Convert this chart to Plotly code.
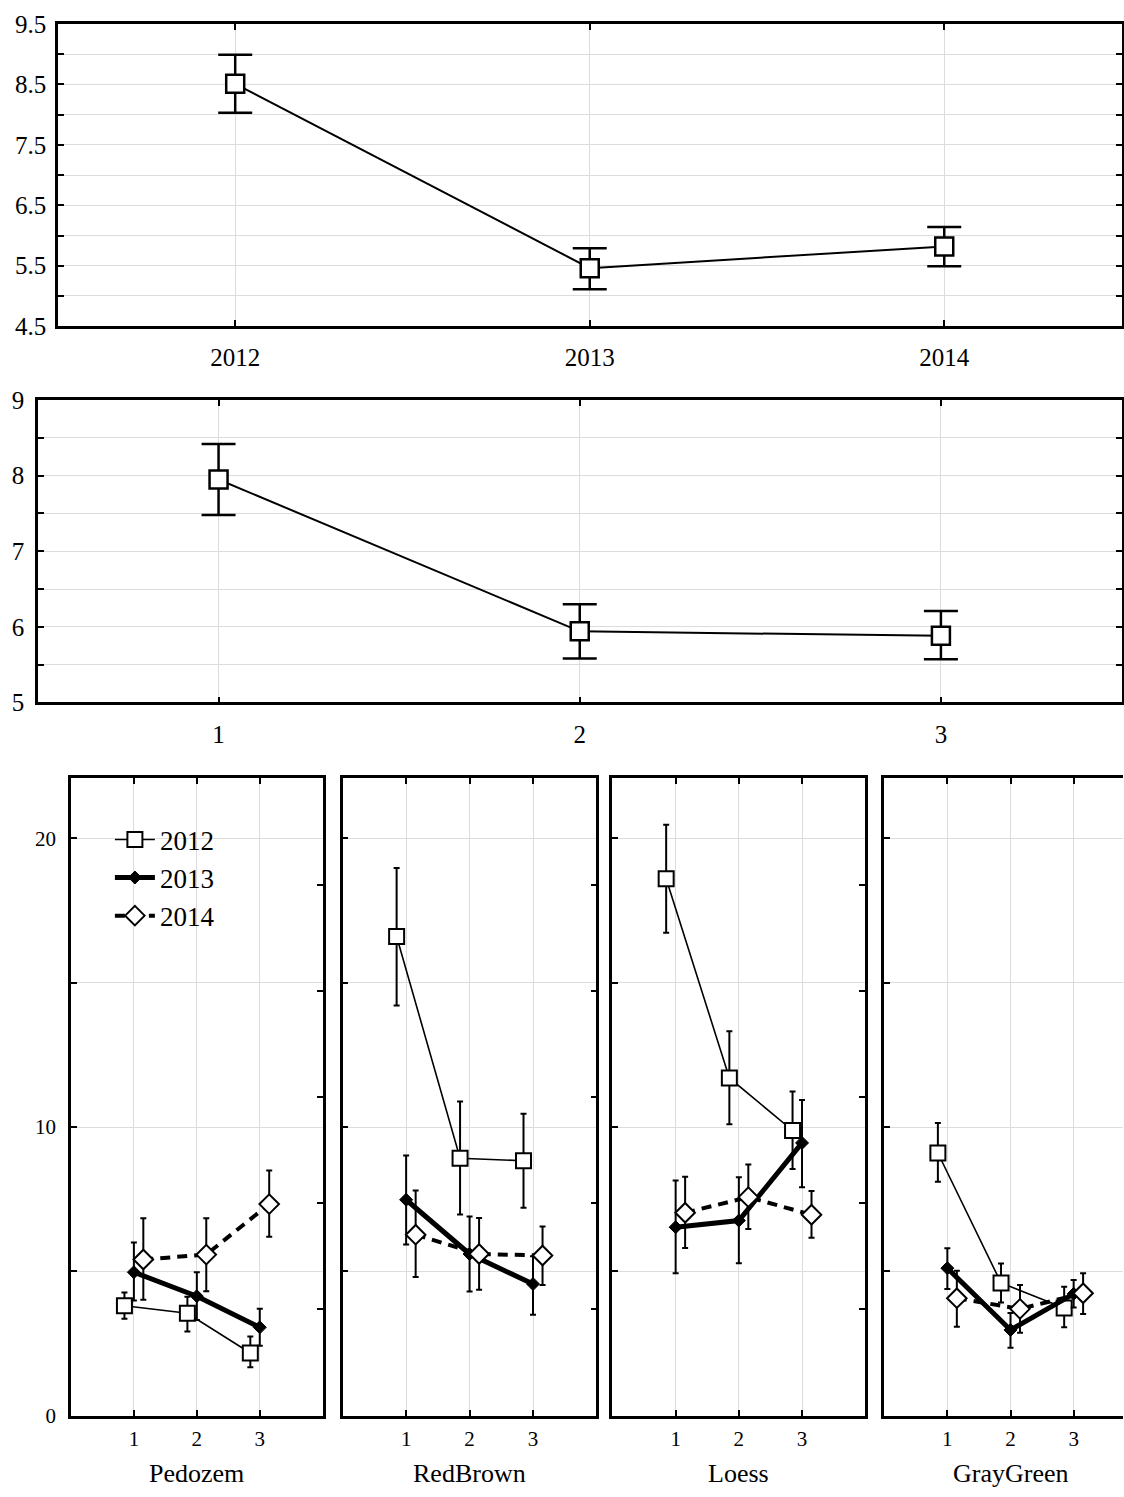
import plotly.graph_objects as go

FONT = "Liberation Serif"
W, H = 1124, 1497

# ---------------- data ----------------
years = ["2012", "2013", "2014"]
year_mean = [8.51, 5.46, 5.82]
year_lo = [8.03, 5.11, 5.49]
year_hi = [8.99, 5.79, 6.14]

sites = ["1", "2", "3"]
site_mean = [7.95, 5.94, 5.88]
site_lo = [7.48, 5.58, 5.57]
site_hi = [8.42, 6.30, 6.21]

soils = ["Pedozem", "RedBrown", "Loess", "GrayGreen"]
positions = [1, 2, 3]

# per soil (Pedozem, RedBrown, Loess, GrayGreen), values at positions 1,2,3
mean_2012 = [[3.81, 3.55, 2.17], [16.60, 8.92, 8.83], [18.60, 11.70, 9.88], [9.10, 4.60, 3.73]]
lo_2012 = [[3.36, 2.92, 1.68], [14.21, 6.97, 7.20], [16.73, 10.10, 8.55], [8.10, 3.92, 3.06]]
hi_2012 = [[4.27, 4.12, 2.74], [18.97, 10.88, 10.46], [20.47, 13.32, 11.23], [10.14, 5.27, 4.47]]

mean_2013 = [[4.97, 4.14, 3.06], [7.48, 5.60, 4.56], [6.53, 6.76, 9.45], [5.11, 2.97, 4.22]]
lo_2013 = [[3.99, 3.31, 2.42], [5.93, 4.30, 3.50], [4.93, 5.28, 7.91], [4.39, 2.35, 3.75]]
hi_2013 = [[6.00, 4.97, 3.70], [9.01, 6.90, 5.52], [8.15, 8.26, 10.94], [5.80, 3.56, 4.70]]

mean_2014 = [[5.41, 5.58, 7.33], [6.27, 5.60, 5.55], [7.03, 7.57, 6.96], [4.07, 3.70, 4.24]]
lo_2014 = [[4.02, 4.31, 6.20], [4.80, 4.36, 4.53], [5.81, 6.47, 6.16], [3.08, 2.87, 3.52]]
hi_2014 = [[6.84, 6.84, 8.49], [7.80, 6.85, 6.55], [8.28, 8.70, 7.78], [5.02, 4.53, 4.93]]

year_offsets = [-0.15, 0.0, 0.15]

# ---------------- helpers ----------------
# the captured page is shown vertically squeezed (~0.9815) with ~13px top offset;
# target screen pixels are converted to layout fractions accordingly
Y_OFF, Y_SCALE = 13.0, 0.9815

def pxx(p):
    return p / W

def pxy(p):
    return 1 - ((p - Y_OFF) / Y_SCALE) / H

def errs(mean, lo, hi):
    return dict(type="data", symmetric=False,
                array=[h - m for m, h in zip(mean, hi)],
                arrayminus=[m - l for m, l in zip(mean, lo)])

fig = go.Figure()

# ---------------- top panel: years ----------------
e = errs(year_mean, year_lo, year_hi)
e.update(color="black", thickness=2.5, width=17)
fig.add_trace(go.Scatter(
    x=years, y=year_mean, mode="lines+markers", xaxis="x", yaxis="y",
    line=dict(color="black", width=2),
    marker=dict(symbol="square", size=18, color="white", line=dict(color="black", width=2.5)),
    error_y=e, showlegend=False, hoverinfo="skip"))

# ---------------- second panel: sites ----------------
e = errs(site_mean, site_lo, site_hi)
e.update(color="black", thickness=2.5, width=17)
fig.add_trace(go.Scatter(
    x=sites, y=site_mean, mode="lines+markers", xaxis="x2", yaxis="y2",
    line=dict(color="black", width=2),
    marker=dict(symbol="square", size=18, color="white", line=dict(color="black", width=2.5)),
    error_y=e, showlegend=False, hoverinfo="skip"))

# ---------------- bottom panels ----------------
series = [
    ("2012", mean_2012, lo_2012, hi_2012,
     dict(color="black", width=1.6),
     dict(symbol="square", size=15, color="white", line=dict(color="black", width=2))),
    ("2013", mean_2013, lo_2013, hi_2013,
     dict(color="black", width=5),
     dict(symbol="diamond", size=10, color="black", line=dict(color="black", width=1))),
    ("2014", mean_2014, lo_2014, hi_2014,
     dict(color="black", width=4, dash="10px,7px"),
     dict(symbol="diamond", size=15, color="white", line=dict(color="black", width=2))),
]

for si, soil in enumerate(soils):
    xa = "x%d" % (si + 3)
    ya = "y%d" % (si + 3)
    for yi, (name, mean, lo, hi, ln, mk) in enumerate(series):
        xs = [p + year_offsets[yi] for p in positions]
        e = errs(mean[si], lo[si], hi[si])
        e.update(color="black", thickness=2, width=3)
        fig.add_trace(go.Scatter(
            x=xs, y=mean[si], mode="lines+markers", xaxis=xa, yaxis=ya,
            name=name, legendgroup=name, showlegend=(si == 0),
            line=ln, marker=mk, error_y=e, hoverinfo="skip"))

# dummy traces so right-side tick axes render
for k, xa in zip([7, 8, 9], ["x3", "x4", "x5"]):
    fig.add_trace(go.Scatter(x=[None], y=[None], xaxis=xa, yaxis="y%d" % k,
                             showlegend=False, hoverinfo="skip"))

# ---------------- axes ----------------
grid = "#dcdcdc"
common = dict(showline=True, linecolor="black", linewidth=2.5,
              ticks="inside", ticklen=6, tickwidth=2, tickcolor="black",
              showgrid=True, gridcolor=grid, gridwidth=1, zeroline=False)
font_top = dict(family=FONT, size=25, color="black")
font_bot = dict(family=FONT, size=21, color="black")

def halves(lo, hi, labeled_int):
    vals, txt = [], []
    v = lo
    while v <= hi + 1e-9:
        vals.append(v)
        is_int = abs(v - round(v)) < 1e-9
        txt.append((("%g" % v) if is_int == labeled_int else ""))
        v += 0.5
    return vals, txt

tv1, tt1 = halves(4.5, 9.5, False)
tv2, tt2 = halves(5, 9, True)

layout = dict(
    width=W, height=H, autosize=False, margin=dict(l=0, r=0, t=0, b=0, pad=0),
    paper_bgcolor="white", plot_bgcolor="white",
    font=dict(family=FONT, color="black"),
    xaxis=dict(common, type="category", range=[-0.5, 2.5], domain=[pxx(58), pxx(1122.5)],
               anchor="y", mirror="ticks", ticklabelstandoff=7, tickfont=font_top),
    yaxis=dict(common, range=[4.5, 9.5], domain=[pxy(326), pxy(24)], anchor="x",
               mirror="ticks", tickvals=tv1, ticktext=tt1, ticklabelstandoff=4,
               tickfont=font_top),
    xaxis2=dict(common, type="category", range=[-0.5, 2.5], domain=[pxx(38), pxx(1122.5)],
                anchor="y2", mirror="ticks", ticklabelstandoff=8, tickfont=font_top),
    yaxis2=dict(common, range=[5, 9], domain=[pxy(702), pxy(400)], anchor="x2",
                mirror="ticks", tickvals=tv2, ticktext=tt2, ticklabelstandoff=6,
                tickfont=font_top),
    legend=dict(x=pxx(110), y=pxy(815), xanchor="left", yanchor="top",
                bgcolor="rgba(0,0,0,0)", font=dict(family=FONT, size=27, color="black"),
                tracegroupgap=0, itemwidth=40),
)

panel_px = [(71, 323), (343, 597), (613, 866), (885, 1124)]
bot_top, bot_bot = 778, 1415
ymax = (bot_bot - bot_top) / 28.85
for i, (l, r) in enumerate(panel_px):
    n = i + 3
    xmax = 4.0 if i < 3 else (r - l) / 63.2
    layout["xaxis%d" % n] = dict(common, range=[0, xmax], domain=[pxx(l), pxx(r)],
                                 anchor="y%d" % n, mirror="ticks",
                                 tickvals=positions, ticktext=[str(p) for p in positions],
                                 ticklabelstandoff=2, tickfont=font_bot)
    layout["yaxis%d" % n] = dict(common, range=[0, ymax], domain=[pxy(bot_bot), pxy(bot_top)],
                                 anchor="x%d" % n, mirror=False,
                                 tickvals=[0, 5, 10, 15, 20],
                                 ticktext=["0", "", "10", "", "20"],
                                 showticklabels=(i == 0), ticklabelstandoff=8,
                                 tickfont=font_bot)
    layout["annotations"] = layout.get("annotations", []) + [dict(
        x=2, y=0, xref="x%d" % n, yref="paper", text=soils[i],
        showarrow=False, font=dict(family=FONT, size=26, color="black"),
        xanchor="center", yanchor="bottom", yshift=-6, borderpad=0)]

for k, n in zip([7, 8, 9], [3, 4, 5]):
    layout["yaxis%d" % k] = dict(overlaying="y%d" % n, anchor="x%d" % n, side="right",
                                 range=[0, 6], dtick=1, showline=True, linecolor="black",
                                 linewidth=2.5, ticks="inside", ticklen=6, tickwidth=2,
                                 tickcolor="black", showticklabels=False, showgrid=False,
                                 zeroline=False)

fig.update_layout(**layout)

pin = ("var gd=document.getElementById('{plot_id}');"
       "gd.style.position='fixed';gd.style.top='0px';gd.style.left='0px';"
       "document.documentElement.style.margin='0';document.documentElement.style.padding='0';"
       "document.body.style.margin='0';document.body.style.padding='0';"
       "document.documentElement.style.overflow='hidden';document.body.style.overflow='hidden';")
fig.write_html("out.html", config={"displayModeBar": False}, post_script=pin)
